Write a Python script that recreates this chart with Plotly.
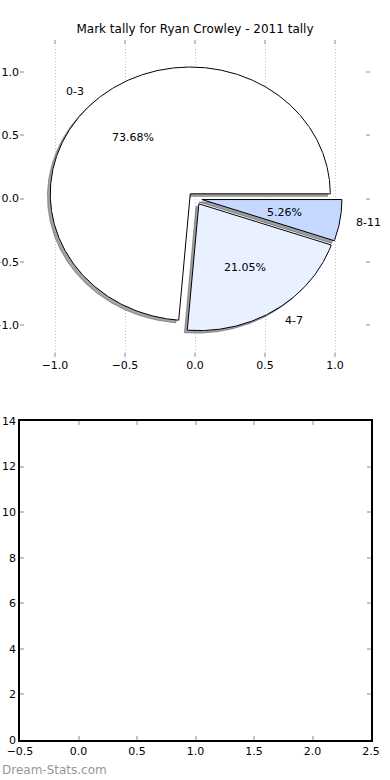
import numpy as np
import plotly.graph_objects as go

# ---- data ----
labels = ["0-3", "4-7", "8-11"]
counts = [14, 4, 1]
pie_ticks = [-1.0, -0.5, 0.0, 0.5, 1.0]
bar_x_ticks = [-0.5, 0.0, 0.5, 1.0, 1.5, 2.0, 2.5]
bar_y_ticks = [0, 2, 4, 6, 8, 10, 12, 14]
title_text = "Mark tally for Ryan Crowley - 2011 tally"
watermark = "Dream-Stats.com"

# ---- style ----
explode = [0.05, 0.05, 0.05]
colors = [(255, 255, 255), (233, 240, 255), (197, 216, 255)]
shadow_off = -0.02
W, H = 390, 780
FONT = "DejaVu Sans"

fig = go.Figure()

fracs = np.array(counts, dtype=float) / np.sum(counts)
wedges = []
cum = 0.0
for lab, f, e, c in zip(labels, fracs, explode, colors):
    t1 = 360.0 * cum
    t2 = 360.0 * (cum + f)
    cum += f
    mid = np.deg2rad((t1 + t2) / 2)
    cx, cy = e * np.cos(mid), e * np.sin(mid)
    th = np.deg2rad(np.linspace(t1, t2, max(int(t2 - t1) * 2, 4)))
    xs = np.concatenate([[cx], cx + np.cos(th), [cx]])
    ys = np.concatenate([[cy], cy + np.sin(th), [cy]])
    wedges.append((lab, f, c, cx, cy, mid, xs, ys))

# shadows first (below all wedges)
for lab, f, c, cx, cy, mid, xs, ys in wedges:
    sc = "rgba(%d,%d,%d,0.5)" % tuple(int(0.3 * v) for v in c)
    fig.add_trace(go.Scatter(x=xs + shadow_off, y=ys + shadow_off, mode="lines",
                             fill="toself", fillcolor=sc,
                             line=dict(color=sc, width=1),
                             hoverinfo="skip", showlegend=False))
for lab, f, c, cx, cy, mid, xs, ys in wedges:
    fig.add_trace(go.Scatter(x=xs, y=ys, mode="lines", fill="toself",
                             fillcolor="rgb(%d,%d,%d)" % c,
                             line=dict(color="black", width=1),
                             hoverinfo="skip", showlegend=False))

annotations = []
for lab, f, c, cx, cy, mid, xs, ys in wedges:
    xt = cx + 1.1 * np.cos(mid)
    yt = cy + 1.1 * np.sin(mid)
    annotations.append(dict(x=xt, y=yt, xref="x", yref="y", text=lab, showarrow=False,
                            xanchor="left" if xt > 0 else "right", yanchor="middle",
                            font=dict(family=FONT, size=11, color="black")))
    xp = cx + 0.6 * np.cos(mid)
    yp = cy + 0.6 * np.sin(mid)
    annotations.append(dict(x=xp, y=yp, xref="x", yref="y", text="%.2f%%" % (100 * f),
                            showarrow=False, xanchor="center", yanchor="middle",
                            font=dict(family=FONT, size=11, color="black")))

annotations.append(dict(x=0, y=1 - 770 / H, xref="paper", yref="paper", text=watermark,
                        showarrow=False, xanchor="left", yanchor="middle",
                        font=dict(family=FONT, size=12, color="#979797")))

# empty second subplot
fig.add_trace(go.Scatter(x=[], y=[], xaxis="x2", yaxis="y2", showlegend=False))

tick_common = dict(ticks="inside", ticklen=4, tickwidth=1.5, tickcolor="#c4c4c4",
                   zeroline=False, fixedrange=True, automargin=False,
                   tickfont=dict(family=FONT, size=11, color="black"))

fig.update_layout(
    width=W, height=H,
    margin=dict(l=0, r=0, t=0, b=0, autoexpand=False),
    paper_bgcolor="white", plot_bgcolor="white",
    font=dict(family=FONT, size=11, color="black"),
    showlegend=False,
    title=dict(text=title_text, x=0.5, xref="paper", y=1 - 29 / H, yref="paper",
               xanchor="center", yanchor="middle",
               font=dict(family=FONT, size=12, color="black")),
    xaxis=dict(domain=[20 / W, 370 / W], range=[-1.25, 1.25], anchor="y",
               tickvals=pie_ticks, tickformat=".1f",
               showgrid=True, gridcolor="#c4c4c4", griddash="1px,2px", gridwidth=1,
               showline=False, mirror="ticks", **tick_common),
    yaxis=dict(domain=[1 - 357 / H, 1 - 40 / H], range=[-1.25, 1.25], anchor="x",
               tickvals=pie_ticks, tickformat=".1f", showgrid=False,
               showline=False, mirror="ticks", **tick_common),
    xaxis2=dict(domain=[20 / W, 371 / W], range=[-0.5, 2.5], anchor="y2",
                tickvals=bar_x_ticks, tickformat=".1f", showgrid=False,
                showline=True, linecolor="black", linewidth=1.5, mirror="ticks", **tick_common),
    yaxis2=dict(domain=[1 - 740 / H, 1 - 421 / H], range=[0, 14], anchor="x2",
                tickvals=bar_y_ticks, showgrid=False,
                showline=True, linecolor="black", linewidth=1.5, mirror="ticks", **tick_common),
    annotations=annotations,
)

fig.write_html("out.html", config={"displayModeBar": False},
               post_script="document.body.style.margin='0';document.body.style.overflow='hidden';")
